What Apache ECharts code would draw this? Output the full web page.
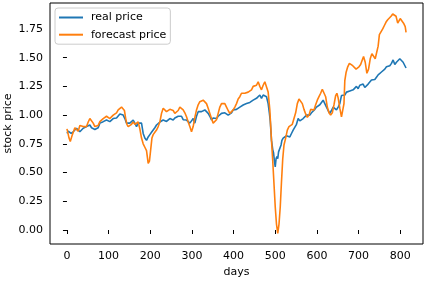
<!DOCTYPE html>
<html>
<head>
<meta charset="utf-8">
<script src="https://cdn.jsdelivr.net/npm/echarts@6/dist/echarts.min.js"></script>
<style>
html,body{margin:0;padding:0;background:#fff;}
#chart{width:425px;height:281px;}
</style>
</head>
<body>
<div id="chart"></div>
<script>
var realDays = [0,3,6,10,15,19,23,27,31,35,39,43,47,51,55,59,63,67,71,75,79,83,87,91,95,99,103,107,111,115,119,123,127,131,135,139,143,147,151,155,159,163,167,171,175,179,183,187,191,195,199,203,207,211,215,219,223,227,231,235,239,243,247,251,255,259,263,267,271,275,279,283,287,291,295,299,303,307,311,315,319,323,327,331,335,339,343,347,351,355,359,363,367,371,375,379,383,387,391,395,399,403,407,411,415,419,423,427,431,435,439,443,447,451,455,459,463,467,471,475,479,483,486,488,491,494,496,498,500,502,504,506,508,510,512,514,516,519,523,527,531,535,539,543,547,551,555,559,563,567,571,575,579,583,587,591,595,599,603,607,611,615,619,623,627,631,635,639,643,647,651,655,659,663,667,671,675,679,683,687,691,695,699,703,707,711,715,719,723,727,731,735,739,743,747,751,755,759,763,767,771,775,779,783,787,791,795,799,803,807,811,814];
var realPrice = [0.84,0.86,0.87,0.84,0.855,0.86,0.885,0.87,0.855,0.87,0.885,0.88,0.90,0.91,0.914,0.89,0.885,0.875,0.87,0.89,0.93,0.92,0.943,0.935,0.957,0.95,0.943,0.96,0.97,0.98,0.975,0.99,1.01,1.015,1.0,0.97,0.93,0.92,0.93,0.945,0.957,0.93,0.90,0.93,0.945,0.93,0.84,0.80,0.78,0.81,0.83,0.85,0.87,0.89,0.914,0.93,0.94,0.95,0.957,0.95,0.945,0.96,0.97,0.96,0.957,0.975,0.986,0.99,1.0,0.99,0.96,0.955,0.957,0.94,0.93,0.95,0.97,0.93,0.99,1.03,1.02,1.03,1.04,1.045,1.03,1.015,0.99,0.957,0.975,0.97,0.97,0.99,1.0,1.015,1.01,1.02,1.015,1.0,1.015,1.02,1.045,1.04,1.05,1.06,1.07,1.075,1.088,1.09,1.10,1.095,1.11,1.12,1.13,1.135,1.146,1.16,1.175,1.146,1.175,1.175,1.16,1.10,1.015,0.95,0.78,0.70,0.67,0.60,0.55,0.62,0.64,0.62,0.68,0.67,0.72,0.74,0.78,0.80,0.81,0.82,0.83,0.81,0.84,0.87,0.87,0.92,0.97,0.95,0.96,0.97,0.98,1.0,0.99,1.0,1.02,1.03,1.05,1.07,1.08,1.09,1.11,1.13,1.10,1.07,1.04,1.015,1.04,1.07,1.06,1.045,1.07,1.10,1.17,1.16,1.175,1.20,1.19,1.21,1.22,1.22,1.23,1.25,1.23,1.26,1.26,1.27,1.24,1.23,1.27,1.28,1.305,1.30,1.31,1.33,1.35,1.36,1.375,1.39,1.40,1.42,1.435,1.43,1.45,1.48,1.44,1.46,1.45,1.49,1.48,1.46,1.45,1.41];

var forecastDays = [0,2,5,8,10,13,16,19,23,27,31,35,39,43,47,51,55,59,63,67,71,75,79,83,87,91,95,99,103,107,111,115,119,123,127,131,135,138,141,144,147,151,155,159,163,167,171,175,179,183,187,191,195,198,201,204,207,211,215,219,223,227,231,235,239,243,247,251,255,259,263,267,271,275,279,283,287,291,295,299,303,307,311,315,319,323,327,331,335,339,343,347,351,355,359,363,367,371,375,379,383,387,391,395,399,403,407,411,415,419,423,427,431,435,439,443,447,451,455,459,463,467,471,475,479,483,487,491,494,497,500,503,506,509,512,515,518,521,525,529,533,537,541,545,549,553,557,561,565,569,573,577,581,585,589,593,597,601,605,609,613,617,621,625,629,633,637,641,645,648,651,655,659,663,665,667,670,674,678,682,686,690,694,698,701,705,708,712,716,720,724,728,732,736,740,744,747,750,754,758,762,766,770,774,778,782,786,790,794,797,800,804,808,812,814];
var forecastPrice = [0.88,0.85,0.80,0.77,0.785,0.83,0.86,0.89,0.90,0.86,0.91,0.92,0.90,0.885,0.90,0.94,0.97,0.96,0.93,0.90,0.885,0.91,0.943,0.955,0.97,0.985,0.99,0.98,0.97,0.985,1.0,1.015,1.02,1.045,1.06,1.07,1.08,1.04,0.97,0.92,0.90,0.90,0.92,0.94,0.92,0.91,0.94,0.88,0.80,0.75,0.72,0.69,0.58,0.60,0.70,0.80,0.83,0.85,0.87,0.90,0.94,1.015,1.06,1.05,1.03,1.045,1.05,1.06,1.04,1.015,1.03,1.04,1.07,1.06,1.045,1.02,0.986,0.94,0.90,0.856,0.90,0.98,1.045,1.09,1.117,1.13,1.13,1.12,1.10,1.06,1.015,0.97,0.93,0.92,0.96,1.015,1.07,1.10,1.117,1.10,1.07,1.04,1.015,1.03,1.045,1.07,1.10,1.14,1.16,1.19,1.20,1.19,1.19,1.20,1.20,1.22,1.25,1.24,1.26,1.29,1.25,1.22,1.26,1.29,1.28,1.20,1.045,0.78,0.60,0.40,0.20,0.05,-0.03,0.05,0.20,0.42,0.62,0.74,0.80,0.87,0.90,0.91,0.92,0.93,1.02,1.10,1.14,1.14,1.10,1.05,1.01,0.98,1.0,1.05,1.06,1.045,1.09,1.13,1.16,1.19,1.225,1.23,1.16,1.07,1.02,1.0,1.02,1.09,1.17,1.19,1.15,1.06,0.985,0.97,1.10,1.30,1.37,1.42,1.45,1.44,1.43,1.42,1.40,1.41,1.42,1.44,1.47,1.51,1.46,1.364,1.40,1.49,1.535,1.53,1.49,1.48,1.60,1.70,1.71,1.75,1.78,1.81,1.83,1.845,1.86,1.88,1.88,1.86,1.80,1.79,1.84,1.83,1.80,1.77,1.72];

var xTicks = [0,100,200,300,400,500,600,700,800];
var yTicks = [0,0.25,0.5,0.75,1.0,1.25,1.5,1.75];

function zip(a, b) { return a.map(function (d, i) { return [d, b[i]]; }); }

var FONT = 'DejaVu Sans';
var chart = echarts.init(document.getElementById('chart'), null, {renderer: 'canvas'});
chart.setOption({
  animation: false,
  backgroundColor: '#ffffff',
  grid: {left: 50, right: 2, top: 3, bottom: 37, containLabel: false, outerBoundsMode: 'none',
    show: true, borderColor: '#000', borderWidth: 1, backgroundColor: 'transparent'},
  legend: {
    data: ['real price', 'forecast price'],
    orient: 'vertical', left: 55, top: 8,
    icon: 'rect', itemWidth: 24, itemHeight: 2, itemGap: 6.2,
    backgroundColor: '#fff', borderColor: '#cccccc', borderWidth: 1, borderRadius: 3,
    padding: [4, 4, 4, 4],
    textStyle: {fontFamily: FONT, fontSize: 11, color: '#000', padding: [0, 0, 0, 3]}
  },
  xAxis: {
    type: 'value', min: -40.7, max: 854.7,
    name: 'days', nameLocation: 'middle', nameGap: 23, nameMoveOverlap: false,
    nameTextStyle: {fontFamily: FONT, fontSize: 11, color: '#000'},
    axisLine: {show: false},
    splitLine: {show: false},
    axisTick: {show: true, length: 4, lineStyle: {color: '#000', width: 1}, customValues: xTicks},
    axisLabel: {fontFamily: FONT, fontSize: 11, color: '#000', margin: 7, customValues: xTicks}
  },
  yAxis: {
    type: 'value', min: -0.1218, max: 1.9756,
    name: 'stock price', nameLocation: 'middle', nameGap: 36, nameMoveOverlap: false,
    nameTextStyle: {fontFamily: FONT, fontSize: 11, color: '#000'},
    axisLine: {show: false},
    splitLine: {show: false},
    axisTick: {show: true, length: 4, lineStyle: {color: '#000', width: 1}, customValues: yTicks},
    axisLabel: {fontFamily: FONT, fontSize: 11, color: '#000', margin: 7, customValues: yTicks,
      formatter: function (v) { return v.toFixed(2); }}
  },
  series: [
    {name: 'real price', type: 'line', data: zip(realDays, realPrice), symbol: 'none', showSymbol: false,
      lineStyle: {color: '#1f77b4', width: 1.6}, itemStyle: {color: '#1f77b4'}},
    {name: 'forecast price', type: 'line', data: zip(forecastDays, forecastPrice), symbol: 'none', showSymbol: false,
      lineStyle: {color: '#ff7f0e', width: 1.6}, itemStyle: {color: '#ff7f0e'}}
  ]
});
</script>
</body>
</html>
